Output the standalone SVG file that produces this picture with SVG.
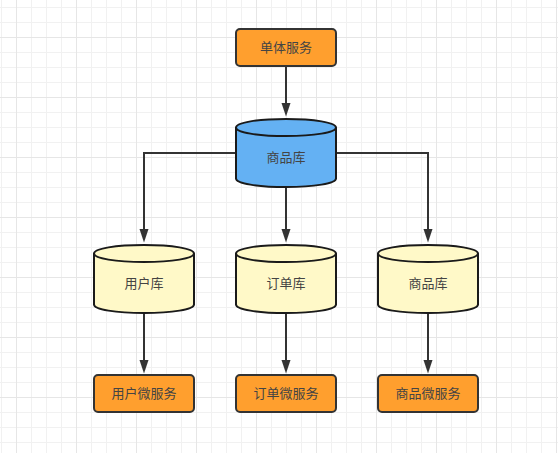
<svg xmlns="http://www.w3.org/2000/svg" width="558" height="453" viewBox="0 0 558 453">
<style>
.box{stroke:#333;stroke-width:2;fill:#ff9f2e}
.cyl{stroke:#1a1a1a;stroke-width:2}
.blue{fill:#64b1f3}
.yellow{fill:#fff9c8}
.lbl{font-family:"Noto Sans CJK SC",sans-serif;font-size:13px;fill:#444;text-anchor:middle}
.edge{fill:none;stroke:#333;stroke-width:2}
.head{fill:#333}
</style>
<defs>
<pattern id="minor" width="15" height="15" patternUnits="userSpaceOnUse" x="1" y="7"><path d="M0.5 0V15M0 0.5H15" stroke="#f1f1f1" fill="none"/></pattern>
<pattern id="major" width="60" height="60" patternUnits="userSpaceOnUse" x="16" y="37"><path d="M0.5 0V60M0 0.5H60" stroke="#e6e6e6" fill="none"/></pattern>
</defs>
<rect width="558" height="453" fill="#fff"/>
<rect width="558" height="453" fill="url(#minor)"/>
<rect width="558" height="453" fill="url(#major)"/>
<g id="connectors">
<path class="edge" d="M286 66V105"/><path class="head" d="M281.500 103H290.500L286 116.500Z"/>
<path class="edge" d="M236 153H144V231"/><path class="head" d="M139.500 229H148.500L144 242.500Z"/>
<path class="edge" d="M286 187V231"/><path class="head" d="M281.500 229H290.500L286 242.500Z"/>
<path class="edge" d="M336 153H428V231"/><path class="head" d="M423.500 229H432.500L428 242.500Z"/>
<path class="edge" d="M144 314V362"/><path class="head" d="M139.500 360H148.500L144 373.500Z"/>
<path class="edge" d="M286 314V362"/><path class="head" d="M281.500 360H290.500L286 373.500Z"/>
<path class="edge" d="M428 314V362"/><path class="head" d="M423.500 360H432.500L428 373.500Z"/>
</g>
<g id="monolith"><rect class="box" x="236" y="29" width="100" height="37" rx="4"/><text class="lbl" x="286" y="51.500">单体服务</text></g>
<g id="db-main"><path class="cyl blue" d="M236 127.500C236 122.500 258 119 286 119S336 122.500 336 127.500V178.500C336 183.500 314 187 286 187S236 183.500 236 178.500Z"/><path class="cyl" fill="none" d="M236 127.500C236 132.500 258 136 286 136S336 132.500 336 127.500"/><text class="lbl" x="286" y="162">商品库</text></g>
<g id="db-user"><path class="cyl yellow" d="M94 253.500C94 248.500 116 245 144 245S194 248.500 194 253.500V304.500C194 309.500 172 313 144 313S94 309.500 94 304.500Z"/><path class="cyl" fill="none" d="M94 253.500C94 258.500 116 262 144 262S194 258.500 194 253.500"/><text class="lbl" x="144" y="288">用户库</text></g>
<g id="db-order"><path class="cyl yellow" d="M236 253.500C236 248.500 258 245 286 245S336 248.500 336 253.500V304.500C336 309.500 314 313 286 313S236 309.500 236 304.500Z"/><path class="cyl" fill="none" d="M236 253.500C236 258.500 258 262 286 262S336 258.500 336 253.500"/><text class="lbl" x="286" y="288">订单库</text></g>
<g id="db-product"><path class="cyl yellow" d="M378 253.500C378 248.500 400 245 428 245S478 248.500 478 253.500V304.500C478 309.500 456 313 428 313S378 309.500 378 304.500Z"/><path class="cyl" fill="none" d="M378 253.500C378 258.500 400 262 428 262S478 258.500 478 253.500"/><text class="lbl" x="428" y="288">商品库</text></g>
<g id="svc-user"><rect class="box" x="94" y="375" width="100" height="37" rx="4"/><text class="lbl" x="144" y="397.500">用户微服务</text></g>
<g id="svc-order"><rect class="box" x="236" y="375" width="100" height="37" rx="4"/><text class="lbl" x="286" y="397.500">订单微服务</text></g>
<g id="svc-product"><rect class="box" x="378" y="375" width="100" height="37" rx="4"/><text class="lbl" x="428" y="397.500">商品微服务</text></g>
</svg>
